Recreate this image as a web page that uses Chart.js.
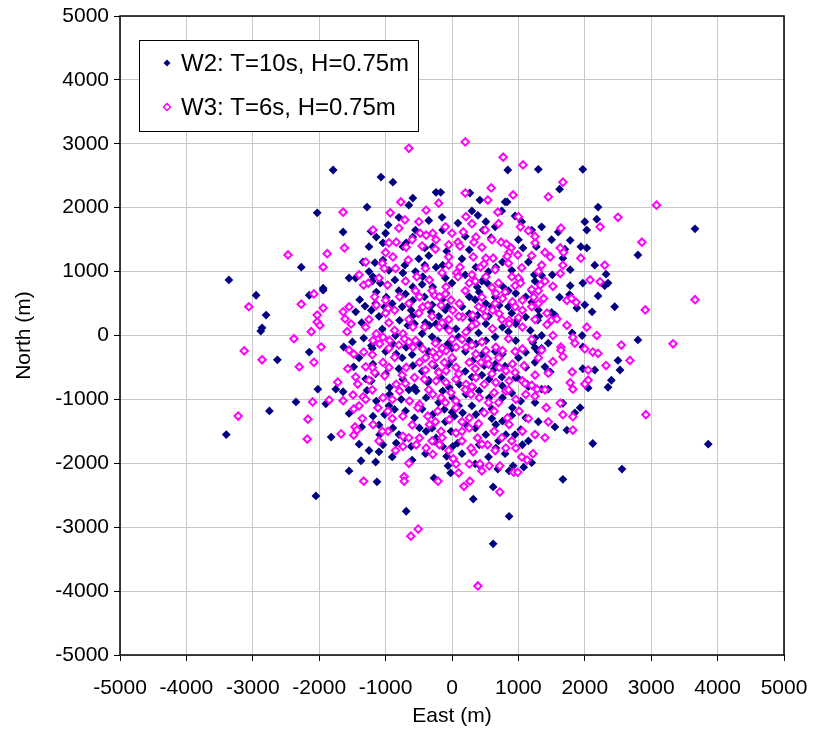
<!DOCTYPE html>
<html>
<head>
<meta charset="utf-8">
<script src="https://cdn.jsdelivr.net/npm/chart.js@4.4.1/dist/chart.umd.min.js"></script>
<style>
  html, body { margin: 0; padding: 0; background: #fff; }
  #wrap { width: 814px; height: 732px; position: relative; }
</style>
</head>
<body>
<div id="wrap"><canvas id="driftChart" width="814" height="732"></canvas></div>
<script>
// axis ticks (m)
const eastTicks = [-5000, -4000, -3000, -2000, -1000, 0, 1000, 2000, 3000, 4000, 5000];
const northTicks = [-5000, -4000, -3000, -2000, -1000, 0, 1000, 2000, 3000, 4000, 5000];

const seriesNames = ['W2: T=10s, H=0.75m', 'W3: T=6s, H=0.75m'];

// W2 end positions [east, north] in metres
const w2Points = [
  [-3400,-1550],[-3360,870],[-2950,630],[-2860,120],[-2880,70],[-2800,320],[-2750,-1180],[-2630,-380],
  [-2150,630],[-2150,-260],[-2020,-840],[-2350,-1040],[-1820,-1590],[-1750,-840],[-1900,-1070],[-1330,-40],
  [-1940,710],[-1630,-180],[-1450,370],[-1390,560],[-1310,460],[-1360,200],[-1480,-490],[-1300,-680],
  [-1280,-860],[-1550,-1220],[-1640,-880],[-1360,-1430],
  [-1790,2590],[-2030,1920],[-1280,2010],[-1640,1620],[-1250,1390],[-2270,1070],[-1340,1150],[-1550,900],[-1940,740],
  [840,2590],[-1070,2480],[-890,2400],[-240,2240],[-170,2240],[270,2230],[420,2120],[800,2090],[830,2090],
  [-590,2150],[-650,2040],[390,1880],[950,1870],[90,1760],[-960,1730],[510,1780],[-140,1650],[470,1650],
  [1050,1780],[-590,1540],[590,1530],[-690,1450],[-740,1390],[260,1340],[-410,1370],[-290,1390],[-1040,1450],
  [-1140,1540],[-1220,1630],[1070,1370],[-1040,1180],[-710,1100],[-1160,1140],[-410,1100],[-240,1070],
  [-140,1100],[-80,1320],[360,1070],[760,1150],[660,1070],
  [1300,2600],[1970,2600],[1620,2290],[2200,2010],[2180,1820],[2000,1780],[2030,1650],[3660,1670],[1600,1620],
  [1780,1490],[1940,1390],[2030,1370],[1270,1390],[1700,1350],[1670,1210],[2800,1260],[2150,1100],[2320,960],
  [1780,1030],[1510,950],[1350,940],[1240,950],[1970,820],[2350,820],[2300,780],[1780,780],
  [2450,450],[2000,480],[2110,370],[1880,430],[2200,620],[1770,640],[1620,600],[2800,-70],[2500,-390],
  [2530,-540],[2400,-700],[2350,-810],[1960,0],[1810,40],[1970,-180],[1450,-120],[1350,0],[1250,-40],
  [1550,320],[1500,360],[1290,240],[1310,300],[1220,-110],[1250,-190],[1350,-200],[1400,-490],[1450,-570],
  [1480,-570],[1970,-520],[2150,-540],[2050,-820],[1350,-840],[1450,-840],[1670,-1060],[1930,-1130],
  [1420,-1130],[1850,-1210],[1550,-1430],[1730,-1480],[2120,-1690],
  [1200,-1990],[1670,-2250],[2560,-2090],[3860,-1700],
  [-1370,-1960],[-1550,-2120],[-2050,-2510],
  [-1100,-1820],[-1150,-1980],[-80,-1890],[-60,-2040],[-20,-2150],[260,-2010],[350,-2010],[420,-2040],
  [690,-2090],[920,-2040],[860,-2120],[1080,-2060],[-1130,-2290],[-270,-2230],[620,-2370],[320,-2560],
  [-690,-2750],[860,-2830],[620,-3260],
  [-1190,920],[-1080,820],[-860,870],[-740,980],[-590,760],[-440,920],[-290,760],[0,820],[380,760],
  [530,820],[770,760],[1020,870],
  [-1140,680],[-990,600],[-590,550],[-415,605],[-90,660],[260,605],[410,680],[510,500],[960,660],[1110,605],
  [-1215,395],[-1015,447],[-615,395],[-515,342],[-315,368],[-65,447],[260,342],[385,316],[710,473],[985,237],[1110,289],
  [-790,237],[-665,158],[-565,184],[-340,158],[-240,184],[-90,132],[60,105],[260,105],[510,184],[760,132],[960,184],
  [-1215,-158],[-890,-132],[-690,-184],[-490,-132],[-215,-79],[-65,-132],[260,-79],[360,-132],[510,-79],
  [760,-289],[960,-79],[1110,-263],
  [-1190,-447],[-840,-289],[-590,-473],[-390,-342],[-265,-473],[10,-368],[310,-395],[485,-473],[635,-526],
  [960,-658],[1110,-500],
  [-1215,-710],[-940,-815],[-740,-684],[-565,-815],[-365,-736],[-165,-658],[-40,-815],[110,-763],[310,-815],
  [560,-684],[760,-789],[985,-658],[1135,-763],
  [-1140,-1026],[-940,-921],[-765,-999],[-540,-868],[-390,-973],[-140,-868],[10,-973],[210,-921],[410,-868],
  [560,-973],[760,-973],[1035,-1026],
  [-1190,-1262],[-1015,-1236],[-865,-1157],[-565,-1289],[-290,-1236],[-115,-1157],[35,-1262],[160,-1210],
  [360,-1236],[460,-1184],[760,-1341],[910,-1131],[1110,-1289],
  [-1090,-1552],[-890,-1447],[-715,-1604],[-490,-1447],[-390,-1499],[-240,-1604],[-15,-1499],[210,-1394],
  [510,-1552],[660,-1394],[810,-1552],[1035,-1473],
  [-1040,-1710],[-840,-1683],[-615,-1736],[-265,-1657],[-140,-1736],[10,-1736],[85,-1683],[410,-1710],
  [660,-1762],[1060,-1710],
  [-1100,300],[-900,500],[-700,650],[-300,480],[-150,560],[150,450],[350,560],[650,600],[850,450],[1200,520],
  [-1050,100],[-850,0],[-450,30],[-300,-20],[100,-20],[400,40],[650,-20],[850,60],[1180,80],
  [-1000,-600],[-800,-520],[-450,-560],[-200,-560],[200,-560],[450,-620],[800,-480],[1250,-420],
  [-950,-1100],[-700,-1180],[-450,-1150],[-200,-1050],[100,-1100],[300,-1100],[600,-1150],[900,-1250],[1250,-1050],
  [-1250,1000],[-950,1020],[-550,1000],[-350,1250],[150,1200],[550,1000],[900,1020],[1150,1150],
  [-1400,-1700],[-600,-1950],[-400,-1850],[150,-1850],[550,-1900],[800,-1850],
  [-1450,900],[-1500,-100],[-1400,-350],[1500,1500],[1350,1700],[-800,1850],[300,1950],[-350,1800],
  [-600,300],[-200,300],[550,300],[750,-650],[-750,-350],[200,-250],[-100,-1350],[600,-1300],
  [1300,-1350],[1150,-1650],[-1250,-1800],[-900,-1900],[1000,1500],[-500,1200],[1200,700],[-1200,-200],
  [-1150,-600],[-650,-850],[-350,-700],[-50,-450],[300,-650],[650,-450],[900,-900],[1150,-800],
  [-1100,-1400],[-800,-1550],[-300,-1450],[0,-1200],[350,-1450],[700,-1650],[950,-1550],
  [-1200,850],[-800,700],[-450,800],[-100,900],[200,950],[450,850],[850,700],[1250,850],
  [-1000,1600],[-550,1650],[-150,1850],[200,1550],[650,1700],[1200,1650],[750,1950],
  [-1150,500],[-750,450],[-400,200],[-100,400],[300,250],[600,450],[900,350],[1300,400],
  [-1000,-250],[-600,-300],[-350,-250],[0,-200],[450,-300],[650,-250],[1000,-350],[1300,-250]
];

// W3 end positions [east, north] in metres
const w3Points = [
  [-3060,450],[-3130,-240],[-2860,-380],[-2300,-490],[-3220,-1260],[-2170,-1310],[-2180,-1620],[-2100,-1040],
  [-2080,-420],[-1970,-180],[-2120,60],[-2380,-50],[-2270,490],[-2080,650],[-1940,430],[-2030,320],
  [-2030,210],[-1990,160],[-1720,-730],[-1850,-1010],[-1640,-1020],[-1670,-1540],[-1480,-1150],[-1490,-930],
  [-1420,-760],[-1570,-520],[-1330,-260],[-1480,-290],[-1550,-230],[-1580,60],[-1520,180],[-1610,260],
  [-1640,370],[-1550,450],[-1460,-1430],[-1430,-1480],[-1480,-1560],[-1340,-960],[-1300,-490],[-1300,130],
  [-1640,1930],[-1620,1370],[-1880,1280],[-2470,1260],[-1940,1070],[-1330,790],[-1260,820],
  [-650,2930],[200,3030],[770,2790],[1070,2670],[200,2230],[590,2310],[540,2120],[920,2200],[-770,2090],
  [-200,2070],[-390,1960],[-930,1920],[690,1930],[210,1860],[1000,1860],[-500,1780],[-710,1810],[-800,1680],
  [170,1620],[1030,1700],[1150,1640],[-1190,1650],[-480,1600],[-390,1570],[-290,1600],[-840,1460],[-240,1500],
  [90,1460],[120,1400],[360,1540],[330,1460],[-50,1420],[740,1460],[820,1430],[890,1370],[860,1300],[830,1240],
  [990,1260],[-890,1230],[-660,1180],[-1050,1130],[-1020,1050],[-690,1380],[-50,1230],[320,1230],[510,1210],
  [620,1210],[430,1070],[480,1120],[1050,1060],[1000,900],[120,1070],[70,980],
  [1670,2400],[1450,2170],[3080,2040],[2500,1850],[2230,1700],[1640,1680],[2860,1460],[1250,1450],[1630,1370],
  [1680,1300],[1940,1210],[1480,1230],[2300,1100],[1350,1100],[1300,1000],[1670,1100],[1630,970],[2080,870],
  [2230,840],[1400,850],[1330,790],[1520,770],
  [3660,560],[2910,400],[1870,520],[1730,550],[1800,580],[1230,600],[1380,580],[3330,-130],[2550,-150],
  [2680,-390],[2320,-470],[2180,0],[1820,-30],[1850,-120],[2030,130],[1730,160],[2000,-210],[2120,-260],
  [2200,-280],[1640,-180],[1640,-230],[1670,-330],[1520,-410],[1520,0],[1430,350],[1500,240],[1580,260],
  [1430,170],[1200,450],[1350,-230],[1450,-590],[1810,-570],[2050,-540],[2050,-700],[2000,-760],[1780,-740],
  [1820,-840],[1280,-840],[1200,-780],[1630,-1060],[1420,-1130],[1670,-1240],[1820,-1270],[2920,-1240],
  [1820,-1480],[1400,-1600],
  [1220,-1850],[-1330,-2280],
  [-290,-1860],[20,-1930],[60,-2010],[320,-1820],[260,-2010],[420,-2010],[450,-2120],[560,-2040],[720,-2040],
  [930,-2140],[990,-2140],[1130,-1950],[-720,-2210],[-720,-2280],[-210,-2280],[180,-2360],[270,-2280],
  [720,-2450],[-510,-3030],[-620,-3140],[390,-3920],
  [-530,920],[-340,870],[-90,760],[90,920],[260,820],[510,920],[700,820],[900,920],[1030,820],[-970,790],
  [-1165,605],[-790,605],[-490,605],[-265,631],[-190,605],[-15,552],[110,500],[660,658],[760,579],[910,526],[1060,552],
  [-1140,473],[-965,421],[-865,395],[-440,447],[-365,473],[-165,473],[10,395],[160,289],[310,316],[460,421],
  [610,395],[710,342],[860,237],[1060,395],
  [-1140,26],[-1040,-26],[-865,79],[-740,26],[-590,132],[-415,132],[-190,132],[-40,79],[210,53],[360,184],
  [610,105],[860,184],[1060,132],
  [-1190,-79],[-1090,-132],[-940,-79],[-715,-53],[-590,-184],[-440,-210],[-290,-263],[-190,-289],[-90,-237],
  [60,-184],[210,-184],[360,-289],[510,-237],[660,-184],[760,-237],[1060,-210],
  [-1040,-421],[-865,-342],[-690,-500],[-490,-421],[-240,-342],[-115,-421],[-90,-552],[60,-500],[260,-421],
  [435,-421],[535,-368],[710,-500],[810,-552],[910,-447],[1085,-473],
  [-1165,-579],[-1015,-631],[-840,-763],[-565,-658],[-415,-684],[-240,-710],[-90,-736],[60,-684],[210,-763],
  [360,-658],[485,-763],[660,-736],[860,-710],[1060,-710],
  [-1040,-973],[-790,-868],[-640,-1026],[-490,-1078],[-290,-921],[-165,-973],[-15,-894],[60,-1026],[285,-921],
  [410,-973],[635,-894],[810,-868],[960,-999],[1110,-921],
  [-1115,-1131],[-965,-1184],[-740,-1262],[-515,-1131],[-365,-1262],[-215,-1184],[-40,-1315],[60,-1131],
  [260,-1289],[485,-1210],[635,-1184],[835,-1289],[1010,-1184],
  [-1190,-1394],[-965,-1499],[-740,-1578],[-490,-1604],[-340,-1394],[-165,-1499],[60,-1525],[260,-1447],
  [385,-1604],[635,-1499],[860,-1394],[1060,-1499],
  [-740,-1736],[-540,-1710],[-390,-1762],[-190,-1710],[285,-1762],[535,-1710],[810,-1762],[960,-1762],
  [-1000,550],[-650,500],[-550,700],[-100,650],[200,700],[450,600],[800,680],[1200,720],
  [-1250,250],[-950,200],[-650,250],[-300,300],[-50,250],[300,150],[500,300],[750,250],[1000,280],[1250,250],
  [-1200,-300],[-800,-150],[-550,-80],[-250,-120],[0,-60],[150,-60],[450,-100],[850,-50],[1200,-60],
  [-950,-500],[-750,-620],[-400,-540],[-200,-580],[100,-600],[350,-520],[600,-600],[950,-580],[1250,-620],
  [-1200,-850],[-900,-1000],[-350,-850],[-100,-1050],[200,-850],[550,-1050],[700,-1050],[1250,-950],
  [-900,-1300],[-600,-1400],[-250,-1350],[150,-1350],[400,-1380],[750,-1600],[1150,-1300],
  [-1100,-1650],[-850,-1800],[-300,-1650],[-50,-1800],[150,-1650],[650,-1800],[1050,-1900],
  [-1300,1150],[-850,1050],[-400,1050],[-150,980],[300,950],[650,1030],[850,1130],[1200,1250],
  [-600,1500],[-100,1700],[500,1650],[700,1750],[-1000,1300],[-250,1350],[450,1380],[1400,1300],[-1400,950],
  [-1450,-650],[-1400,-1100],[1400,-850],[1450,-1350],[-650,-2000],[100,-2150],
  [-1250,-700],[-700,-750],[-300,-450],[0,-350],[300,-800],[550,-450],[850,-850],[1100,-750],
  [-1050,-1500],[-650,-1600],[-150,-1600],[150,-1500],[450,-1700],[900,-1650],[1250,-1550],
  [-1100,900],[-700,850],[-300,700],[-50,1100],[350,850],[600,750],[950,780],[1300,700],
  [-950,1450],[-450,1400],[0,1600],[300,1750],[600,1500],[1250,1550],
  [-1000,350],[-500,350],[-150,200],[100,300],[400,450],[650,500],[950,450],[1300,500],
  [-950,-200],[-650,-100],[-400,-350],[-150,-200],[300,-150],[700,-350],[950,-250],[1300,-350],
  [-1300,-1000],[-1200,-500],[-1350,-1300]
];

const NAVY = '#000080';
const MAGENTA = '#ff00ff';
const FONT = 'Liberation Sans, Arial, sans-serif';

function toXY(list) {
  return list.map(p => ({ x: p[0], y: p[1] }));
}

// black frame round the plot area
const frameBox = {
  id: 'frameBox',
  afterDatasetsDraw(chart) {
    const a = chart.chartArea;
    const ctx = chart.ctx;
    ctx.save();
    ctx.strokeStyle = '#000';
    ctx.lineWidth = 1.5;
    ctx.strokeRect(a.left, a.top, a.right - a.left, a.bottom - a.top);
    ctx.restore();
  }
};

// legend box sitting inside the plot, top left
const insetLegend = {
  id: 'insetLegend',
  afterDraw(chart) {
    const ctx = chart.ctx;
    const x0 = 139, y0 = 40, w = 279, h = 91;
    ctx.save();
    ctx.fillStyle = '#fff';
    ctx.fillRect(x0, y0, w, h);
    ctx.strokeStyle = '#000';
    ctx.lineWidth = 1;
    ctx.strokeRect(x0 + 0.5, y0 + 0.5, w, h);

    const rows = [y0 + 23, y0 + 67];
    chart.data.datasets.forEach((ds, i) => {
      const cy = rows[i];
      const r = 3.5;
      ctx.beginPath();
      ctx.moveTo(167, cy - r);
      ctx.lineTo(167 + r, cy);
      ctx.lineTo(167, cy + r);
      ctx.lineTo(167 - r, cy);
      ctx.closePath();
      ctx.fillStyle = ds.backgroundColor;
      ctx.fill();
      if (ds.borderWidth) {
        ctx.strokeStyle = ds.borderColor;
        ctx.lineWidth = 1.5;
        ctx.stroke();
      }
      ctx.fillStyle = '#000';
      ctx.font = '24px ' + FONT;
      ctx.textBaseline = 'middle';
      ctx.textAlign = 'left';
      ctx.fillText(seriesNames[i], 181, cy + 1);
    });
    ctx.restore();
  }
};

const ctx = document.getElementById('driftChart').getContext('2d');
new Chart(ctx, {
  type: 'scatter',
  data: {
    datasets: [
      {
        label: seriesNames[0],
        data: toXY(w2Points),
        pointStyle: 'rectRot',
        pointRadius: 4.4,
        backgroundColor: NAVY,
        borderColor: NAVY,
        borderWidth: 0,
        order: 1
      },
      {
        label: seriesNames[1],
        data: toXY(w3Points),
        pointStyle: 'rectRot',
        pointRadius: 3.7,
        backgroundColor: '#ffffff',
        borderColor: MAGENTA,
        borderWidth: 2,
        order: 0
      }
    ]
  },
  options: {
    responsive: false,
    animation: false,
    devicePixelRatio: 1,
    layout: { padding: { left: 0, right: 30, top: 16, bottom: 0 } },
    plugins: {
      legend: { display: false },
      tooltip: { enabled: false }
    },
    scales: {
      x: {
        type: 'linear',
        min: -5000,
        max: 5000,
        afterFit(scale) {
          scale.height = 77;
          scale.paddingLeft = 0;
          scale.paddingRight = 0;
        },
        afterBuildTicks(scale) { scale.ticks = eastTicks.map(v => ({ value: v })); },
        ticks: {
          color: '#000',
          font: { family: FONT, size: 21 },
          padding: 15,
          maxRotation: 0,
          autoSkip: false,
          callback: v => String(v)
        },
        grid: { color: '#c8c8c8', lineWidth: 1, tickLength: 6, tickColor: '#000' },
        border: { display: false },
        title: {
          display: true,
          text: 'East (m)',
          color: '#000',
          font: { family: FONT, size: 21 },
          padding: { top: 0, bottom: 3 }
        }
      },
      y: {
        type: 'linear',
        min: -5000,
        max: 5000,
        afterFit(scale) {
          scale.width = 120;
          scale.paddingTop = 0;
          scale.paddingBottom = 0;
        },
        afterBuildTicks(scale) { scale.ticks = northTicks.map(v => ({ value: v })); },
        ticks: {
          color: '#000',
          font: { family: FONT, size: 21 },
          padding: 5,
          autoSkip: false,
          callback: v => String(v)
        },
        grid: { color: '#c8c8c8', lineWidth: 1, tickLength: 6, tickColor: '#000' },
        border: { display: false },
        title: {
          display: true,
          text: 'North (m)',
          color: '#000',
          font: { family: FONT, size: 21 },
          padding: { top: 12, bottom: 0 }
        }
      }
    }
  },
  plugins: [frameBox, insetLegend]
});
</script>
</body>
</html>
